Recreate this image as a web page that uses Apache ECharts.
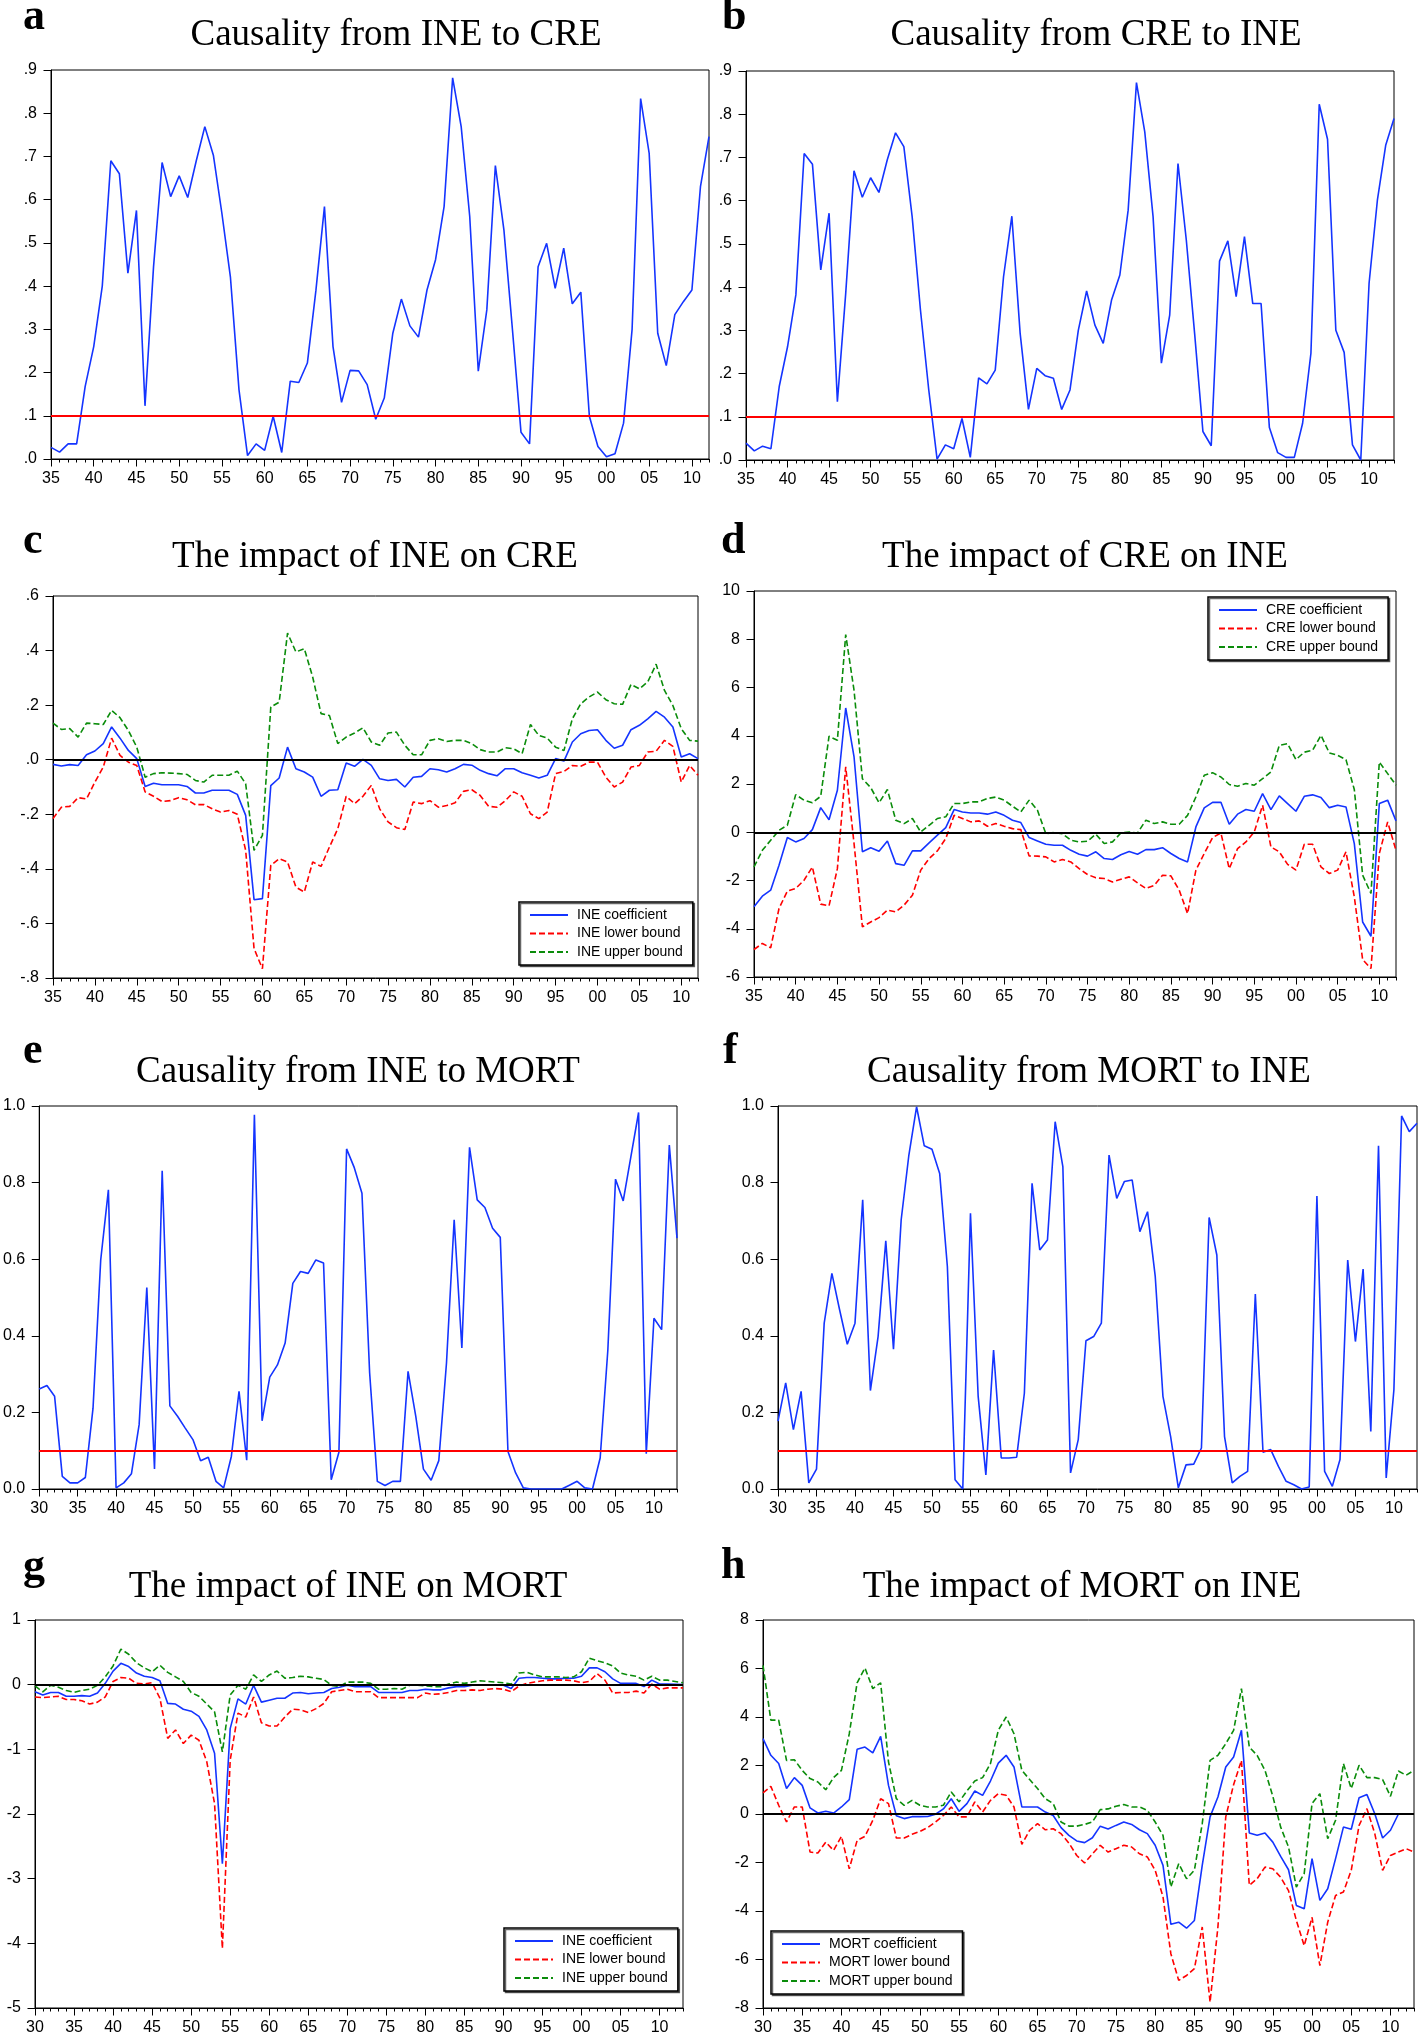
<!DOCTYPE html>
<html>
<head>
<meta charset="utf-8">
<title>Causality and impact of INE</title>
<script src="https://cdn.jsdelivr.net/npm/echarts@6/dist/echarts.min.js"></script>
<style>
  html, body { margin: 0; padding: 0; background: #fff; }
  #chart { width: 1418px; height: 2036px; }
</style>
</head>
<body>
<div id="chart"></div>
<script>
  const yearRange = (from, to) => {
    const out = [];
    for (let y = from; y <= to; y++) out.push(y);
    return out;
  };

  // x categories (years)
  const years35to12 = yearRange(1935, 2012);
  const years35to13 = yearRange(1935, 2013);
  const years30to13 = yearRange(1930, 2013);

  const THRESHOLD = 0.1;
  const ZERO = 0;

  // a: causality from INE to CRE (p-values)
  const ineToCre = [
    0.027, 0.016, 0.035, 0.035, 0.168, 0.26, 0.40, 0.69, 0.66, 0.43,
    0.575, 0.123, 0.445, 0.686, 0.607, 0.655, 0.605, 0.69, 0.769, 0.703,
    0.568, 0.42, 0.16, 0.008, 0.035, 0.02, 0.099, 0.015, 0.18, 0.177,
    0.222, 0.39, 0.584, 0.26, 0.131, 0.205, 0.204, 0.172, 0.092, 0.141,
    0.291, 0.37, 0.308, 0.282, 0.391, 0.461, 0.584, 0.882, 0.769, 0.561,
    0.203, 0.345, 0.679, 0.53, 0.299, 0.062, 0.035, 0.445, 0.499, 0.395,
    0.488, 0.359, 0.386, 0.099, 0.029, 0.005, 0.012, 0.083, 0.30, 0.834,
    0.707, 0.291, 0.216, 0.334, 0.364, 0.391, 0.63, 0.746
  ];

  // b: causality from CRE to INE
  const creToIne = [
    0.039, 0.021, 0.032, 0.026, 0.17, 0.262, 0.382, 0.709, 0.684, 0.44,
    0.571, 0.135, 0.385, 0.669, 0.608, 0.653, 0.619, 0.694, 0.757, 0.725,
    0.563, 0.347, 0.162, 0.002, 0.035, 0.026, 0.096, 0.006, 0.19, 0.176,
    0.208, 0.424, 0.564, 0.293, 0.117, 0.212, 0.195, 0.189, 0.117, 0.162,
    0.30, 0.391, 0.312, 0.27, 0.37, 0.428, 0.578, 0.873, 0.759, 0.563,
    0.224, 0.335, 0.686, 0.509, 0.293, 0.066, 0.033, 0.46, 0.507, 0.378,
    0.517, 0.362, 0.362, 0.075, 0.017, 0.006, 0.006, 0.085, 0.247, 0.823,
    0.742, 0.30, 0.249, 0.035, 0.0, 0.409, 0.601, 0.728, 0.79
  ];

  // c: impact of INE on CRE
  const ineOnCreCoef = [
    -0.017, -0.023, -0.018, -0.021, 0.018, 0.032, 0.059, 0.12, 0.079, 0.034,
    0.004, -0.098, -0.086, -0.092, -0.092, -0.092, -0.098, -0.122, -0.122, -0.112,
    -0.112, -0.112, -0.127, -0.204, -0.513, -0.509, -0.095, -0.067, 0.046, -0.033,
    -0.045, -0.064, -0.134, -0.112, -0.11, -0.012, -0.024, 0.001, -0.021, -0.07,
    -0.076, -0.072, -0.10, -0.064, -0.061, -0.033, -0.037, -0.045, -0.033, -0.017,
    -0.02, -0.039, -0.051, -0.059, -0.033, -0.033, -0.048, -0.057, -0.067, -0.057,
    0.004, -0.005, 0.065, 0.095, 0.107, 0.11, 0.071, 0.042, 0.053, 0.11,
    0.126, 0.15, 0.177, 0.156, 0.12, 0.01, 0.022, 0.004
  ];
  const ineOnCreLower = [
    -0.216, -0.174, -0.171, -0.139, -0.144, -0.082, -0.027, 0.079, 0.016, -0.009,
    -0.021, -0.118, -0.134, -0.153, -0.15, -0.139, -0.147, -0.165, -0.164, -0.18,
    -0.192, -0.186, -0.20, -0.332, -0.692, -0.766, -0.387, -0.363, -0.375, -0.467,
    -0.485, -0.375, -0.391, -0.32, -0.253, -0.134, -0.161, -0.134, -0.094, -0.18,
    -0.228, -0.249, -0.256, -0.155, -0.161, -0.15, -0.174, -0.168, -0.158, -0.116,
    -0.11, -0.131, -0.171, -0.174, -0.15, -0.118, -0.134, -0.198, -0.216, -0.192,
    -0.051, -0.043, -0.021, -0.024, -0.009, -0.009, -0.064, -0.10, -0.082, -0.027,
    -0.021, 0.028, 0.031, 0.071, 0.049, -0.082, -0.021, -0.057
  ];
  const ineOnCreUpper = [
    0.134, 0.111, 0.114, 0.083, 0.134, 0.132, 0.129, 0.181, 0.154, 0.107,
    0.046, -0.064, -0.051, -0.048, -0.049, -0.051, -0.054, -0.076, -0.082, -0.057,
    -0.057, -0.057, -0.042, -0.088, -0.332, -0.277, 0.193, 0.211, 0.464, 0.395,
    0.407, 0.303, 0.169, 0.162, 0.059, 0.083, 0.098, 0.117, 0.065, 0.053,
    0.098, 0.101, 0.053, 0.018, 0.018, 0.071, 0.077, 0.067, 0.071, 0.071,
    0.059, 0.037, 0.028, 0.028, 0.044, 0.04, 0.022, 0.129, 0.089, 0.079,
    0.046, 0.034, 0.15, 0.205, 0.23, 0.248, 0.22, 0.205, 0.203, 0.276,
    0.26, 0.285, 0.35, 0.254, 0.199, 0.114, 0.071, 0.068
  ];

  // d: impact of CRE on INE
  const creOnIneCoef = [
    -3.09, -2.65, -2.40, -1.37, -0.22, -0.40, -0.26, 0.11, 1.02, 0.52,
    1.74, 5.15, 3.12, -0.81, -0.64, -0.79, -0.36, -1.30, -1.37, -0.77,
    -0.77, -0.44, -0.12, 0.19, 0.94, 0.84, 0.80, 0.80, 0.75, 0.84,
    0.70, 0.50, 0.40, -0.22, -0.36, -0.50, -0.54, -0.54, -0.75, -0.91,
    -0.99, -0.81, -1.09, -1.13, -0.93, -0.80, -0.91, -0.72, -0.72, -0.64,
    -0.88, -1.09, -1.23, 0.22, 1.01, 1.24, 1.24, 0.33, 0.75, 0.94,
    0.87, 1.60, 0.94, 1.51, 1.19, 0.87, 1.49, 1.55, 1.44, 1.02,
    1.12, 1.05, -0.47, -3.72, -4.31, 1.19, 1.33, 0.47
  ];
  const creOnIneLower = [
    -4.86, -4.61, -4.79, -3.16, -2.44, -2.33, -1.99, -1.44, -2.98, -3.05,
    -1.51, 2.71, -0.47, -3.92, -3.72, -3.54, -3.23, -3.30, -3.02, -2.61,
    -1.57, -1.09, -0.77, -0.26, 0.70, 0.57, 0.43, 0.47, 0.25, 0.36,
    0.25, 0.15, 0.11, -0.98, -0.99, -1.02, -1.23, -1.13, -1.23, -1.51,
    -1.75, -1.89, -1.92, -2.06, -1.95, -1.85, -2.10, -2.33, -2.20, -1.78,
    -1.81, -2.40, -3.37, -1.57, -0.88, -0.22, -0.03, -1.51, -0.68, -0.40,
    0.01, 1.12, -0.61, -0.81, -1.33, -1.57, -0.50, -0.50, -1.44, -1.71,
    -1.57, -0.81, -2.68, -5.28, -5.65, -0.88, 0.43, -0.75
  ];
  const creOnIneUpper = [
    -1.44, -0.75, -0.33, 0.08, 0.29, 1.56, 1.33, 1.22, 1.49, 3.98,
    3.81, 8.19, 5.88, 2.22, 1.85, 1.22, 1.77, 0.50, 0.36, 0.57,
    0.01, 0.29, 0.57, 0.64, 1.19, 1.19, 1.26, 1.26, 1.40, 1.46,
    1.33, 1.08, 0.84, 1.33, 0.91, -0.06, -0.01, -0.06, -0.33, -0.40,
    -0.37, -0.08, -0.47, -0.40, -0.03, 0.01, -0.03, 0.50, 0.36, 0.43,
    0.33, 0.33, 0.70, 1.46, 2.36, 2.47, 2.29, 1.98, 1.91, 2.02,
    1.95, 2.22, 2.50, 3.60, 3.67, 3.01, 3.32, 3.40, 4.02, 3.29,
    3.19, 3.01, 1.77, -1.78, -2.54, 2.91, 2.43, 1.95
  ];

  // e: causality from INE to MORT
  const ineToMort = [
    0.261, 0.27, 0.242, 0.033, 0.016, 0.016, 0.03, 0.211, 0.598, 0.781,
    0.003, 0.016, 0.04, 0.168, 0.526, 0.052, 0.831, 0.217, 0.19, 0.159,
    0.129, 0.074, 0.083, 0.02, 0.003, 0.085, 0.255, 0.075, 0.977, 0.178,
    0.292, 0.324, 0.381, 0.537, 0.568, 0.563, 0.598, 0.59, 0.024, 0.096,
    0.888, 0.839, 0.772, 0.303, 0.02, 0.009, 0.02, 0.02, 0.307, 0.19,
    0.052, 0.023, 0.074, 0.329, 0.703, 0.368, 0.892, 0.755, 0.735, 0.681,
    0.657, 0.098, 0.042, 0.003, 0, 0, 0, 0, 0, 0.01,
    0.02, 0.003, 0, 0.081, 0.363, 0.809, 0.752, 0.868, 0.983, 0.092,
    0.446, 0.416, 0.898, 0.655
  ];

  // f: causality from MORT to INE
  const mortToIne = [
    0.177, 0.277, 0.155, 0.255, 0.016, 0.052, 0.433, 0.563, 0.468, 0.378,
    0.433, 0.755, 0.257, 0.398, 0.648, 0.365, 0.703, 0.872, 0.998, 0.896,
    0.887, 0.824, 0.581, 0.024, 0.0, 0.72, 0.242, 0.037, 0.363, 0.081,
    0.081, 0.083, 0.25, 0.798, 0.624, 0.65, 0.959, 0.842, 0.042, 0.129,
    0.387, 0.398, 0.433, 0.872, 0.759, 0.803, 0.807, 0.672, 0.724, 0.555,
    0.242, 0.137, 0.003, 0.063, 0.065, 0.107, 0.709, 0.611, 0.137, 0.016,
    0.033, 0.046, 0.509, 0.096, 0.103, 0.059, 0.02, 0.011, 0.0, 0.005,
    0.765, 0.046, 0.007, 0.077, 0.598, 0.385, 0.574, 0.15, 0.896, 0.029,
    0.259, 0.974, 0.933, 0.955
  ];

  // g: impact of INE on MORT
  const ineOnMortCoef = [
    -0.11, -0.16, -0.12, -0.12, -0.18, -0.18, -0.17, -0.18, -0.13, 0.02,
    0.21, 0.33, 0.28, 0.18, 0.13, 0.11, 0.06, -0.29, -0.30, -0.38,
    -0.41, -0.49, -0.70, -1.06, -2.77, -0.68, -0.22, -0.30, -0.01, -0.27,
    -0.24, -0.21, -0.21, -0.13, -0.12, -0.14, -0.13, -0.12, -0.06, -0.04,
    -0.01, -0.03, -0.03, -0.03, -0.12, -0.12, -0.12, -0.12, -0.09, -0.09,
    -0.07, -0.08, -0.08, -0.05, -0.03, -0.03, -0.01, -0.01, -0.01, -0.01,
    -0.01, -0.06, 0.10, 0.11, 0.11, 0.10, 0.09, 0.09, 0.10, 0.10,
    0.13, 0.26, 0.26, 0.20, 0.09, 0.02, 0.02, 0.02, -0.03, 0.07,
    0.01, 0.01, 0.005, 0.0
  ];
  const ineOnMortLower = [
    -0.19, -0.20, -0.19, -0.18, -0.23, -0.23, -0.25, -0.30, -0.27, -0.19,
    0.05, 0.11, 0.10, 0.02, 0.01, 0.03, -0.21, -0.83, -0.70, -0.91,
    -0.78, -0.86, -1.19, -1.84, -4.08, -1.17, -0.44, -0.50, -0.19, -0.59,
    -0.64, -0.64, -0.50, -0.38, -0.39, -0.43, -0.37, -0.29, -0.11, -0.09,
    -0.07, -0.11, -0.11, -0.11, -0.20, -0.20, -0.20, -0.20, -0.20, -0.20,
    -0.13, -0.15, -0.14, -0.12, -0.09, -0.09, -0.08, -0.09, -0.07, -0.06,
    -0.07, -0.11, -0.02, 0.02, 0.04, 0.06, 0.07, 0.07, 0.07, 0.06,
    0.03, 0.05, 0.17, 0.07, -0.13, -0.12, -0.12, -0.10, -0.13, 0.01,
    -0.07, -0.05, -0.05, -0.05
  ];
  const ineOnMortUpper = [
    -0.02, -0.11, -0.01, -0.04, -0.09, -0.12, -0.09, -0.07, -0.01, 0.12,
    0.29, 0.55, 0.47, 0.34, 0.26, 0.20, 0.30, 0.19, 0.12, 0.05,
    -0.12, -0.18, -0.30, -0.42, -1.04, -0.16, -0.01, -0.07, 0.15, 0.05,
    0.15, 0.21, 0.10, 0.11, 0.13, 0.12, 0.10, 0.08, -0.01, -0.03,
    0.04, 0.04, 0.04, 0.02, -0.07, -0.07, -0.06, -0.07, -0.01, -0.01,
    -0.02, -0.03, -0.03, 0.01, 0.04, 0.02, 0.04, 0.06, 0.05, 0.04,
    0.03, 0.01, 0.18, 0.19, 0.15, 0.12, 0.12, 0.12, 0.11, 0.12,
    0.20, 0.41, 0.37, 0.34, 0.29, 0.18, 0.15, 0.13, 0.07, 0.13,
    0.07, 0.07, 0.05, 0.03
  ];

  // h: impact of MORT on INE
  const mortOnIneCoef = [
    3.11, 2.42, 2.08, 1.05, 1.50, 1.18, 0.25, 0.04, 0.11, 0.04,
    0.29, 0.59, 2.67, 2.76, 2.52, 3.20, 1.18, -0.07, -0.19, -0.11,
    -0.11, -0.10, -0.01, 0.21, 0.63, 0.11, 0.43, 0.95, 0.77, 1.36,
    2.10, 2.42, 1.94, 0.29, 0.29, 0.29, 0.08, -0.06, -0.56, -0.88,
    -1.11, -1.18, -0.98, -0.50, -0.62, -0.47, -0.33, -0.43, -0.65, -0.81,
    -1.29, -2.12, -4.55, -4.46, -4.71, -4.39, -2.12, -0.12, 0.70, 1.94,
    2.35, 3.45, -0.78, -0.88, -0.78, -1.16, -1.75, -2.30, -3.77, -3.91,
    -1.84, -3.56, -3.08, -1.84, -0.54, -0.63, 0.67, 0.80, 0.01, -0.99,
    -0.67, -0.01, -0.01, -0.01
  ];
  const mortOnIneLower = [
    0.87, 1.14, 0.36, -0.33, 0.29, 0.29, -1.57, -1.61, -1.16, -1.50,
    -0.92, -2.26, -1.09, -0.92, -0.26, 0.63, 0.43, -0.99, -0.99, -0.84,
    -0.72, -0.56, -0.33, -0.06, 0.29, -0.12, -0.12, 0.50, 0.08, 0.56,
    0.84, 0.77, 0.29, -1.25, -0.67, -0.40, -0.65, -0.61, -0.81, -1.20,
    -1.71, -2.02, -1.64, -1.29, -1.57, -1.43, -1.29, -1.36, -1.64, -1.77,
    -2.32, -3.42, -5.76, -6.86, -6.66, -6.38, -4.66, -7.76, -4.66, -0.12,
    1.21, 2.21, -2.94, -2.67, -2.19, -2.26, -2.61, -3.16, -4.39, -5.43,
    -4.26, -6.25, -4.46, -3.36, -3.22, -2.32, -0.47, 0.22, -0.81, -2.32,
    -1.71, -1.57, -1.43, -1.57
  ];
  const mortOnIneUpper = [
    6.13, 3.87, 3.87, 2.21, 2.24, 1.80, 1.46, 1.32, 1.00, 1.50,
    1.80, 3.31, 5.41, 6.02, 5.17, 5.41, 2.15, 0.63, 0.36, 0.56,
    0.36, 0.29, 0.29, 0.36, 0.91, 0.50, 0.95, 1.36, 1.50, 2.08,
    3.45, 4.00, 3.31, 1.80, 1.42, 1.05, 0.63, 0.43, -0.33, -0.50,
    -0.50, -0.43, -0.33, 0.18, 0.21, 0.32, 0.39, 0.29, 0.29, 0.15,
    -0.33, -0.88, -3.01, -2.05, -2.67, -2.32, -0.40, 2.21, 2.42, 2.90,
    3.45, 5.17, 2.76, 2.42, 1.80, 0.73, -0.54, -1.36, -3.01, -2.46,
    0.43, 0.84, -1.02, -0.26, 2.08, 1.05, 2.01, 1.50, 1.50, 1.42,
    0.73, 1.77, 1.60, 1.80
  ];

  const BLUE = '#1434ff';
  const RED = '#ff0000';
  const GREEN = '#0a8c0a';
  const SANS = '"Liberation Sans", Arial, sans-serif';
  const SERIF = '"Liberation Serif", "Times New Roman", serif';

  const fmtDot = v => (v < 0 ? '-' : '') + Math.abs(v).toFixed(1).replace(/^0/, '');
  const fmtOne = v => v.toFixed(1);
  const fmtInt = v => String(Math.round(v));
  const fmtYear = v => String(v % 100).padStart(2, '0');

  const causality = (name, values) => [{ name, values, color: BLUE, dash: 'solid' }];
  const impact = (prefix, coef, lower, upper) => [
    { name: prefix + ' coefficient', values: coef, color: BLUE, dash: 'solid' },
    { name: prefix + ' lower bound', values: lower, color: RED, dash: [6, 3] },
    { name: prefix + ' upper bound', values: upper, color: GREEN, dash: [6, 3] }
  ];

  const panels = [
    {
      letter: 'a', title: 'Causality from INE to CRE', letterAt: [23, 18], titleAt: [396, 35.5],
      box: { left: 51, top: 70, width: 658, height: 389 },
      years: years35to12, y: { min: 0, max: 0.9, interval: 0.1, fmt: fmtDot },
      lines: causality('INE to CRE', ineToCre), ref: { value: THRESHOLD, color: RED }
    },
    {
      letter: 'b', title: 'Causality from CRE to INE', letterAt: [722, 18], titleAt: [1096, 35.5],
      box: { left: 746, top: 71, width: 648, height: 389 },
      years: years35to13, y: { min: 0, max: 0.9, interval: 0.1, fmt: fmtDot },
      lines: causality('CRE to INE', creToIne), ref: { value: THRESHOLD, color: RED }
    },
    {
      letter: 'c', title: 'The impact of INE on CRE', letterAt: [23, 542], titleAt: [375, 557.5],
      box: { left: 53, top: 596, width: 645, height: 382 },
      years: years35to12, y: { min: -0.8, max: 0.6, interval: 0.2, fmt: fmtDot },
      lines: impact('INE', ineOnCreCoef, ineOnCreLower, ineOnCreUpper),
      ref: { value: ZERO, color: '#000' }, legendAt: [519, 902]
    },
    {
      letter: 'd', title: 'The impact of CRE on INE', letterAt: [721, 542], titleAt: [1085, 557.5],
      box: { left: 754, top: 591, width: 642, height: 386 },
      years: years35to12, y: { min: -6, max: 10, interval: 2, fmt: fmtInt },
      lines: impact('CRE', creOnIneCoef, creOnIneLower, creOnIneUpper),
      ref: { value: ZERO, color: '#000' }, legendAt: [1208, 597]
    },
    {
      letter: 'e', title: 'Causality from INE to MORT', letterAt: [23, 1052], titleAt: [358, 1072.5],
      box: { left: 38, top: 1106, width: 639, height: 383 },
      years: years30to13, y: { min: 0, max: 1, interval: 0.2, fmt: fmtOne },
      lines: causality('INE to MORT', ineToMort), ref: { value: THRESHOLD, color: RED }
    },
    {
      letter: 'f', title: 'Causality from MORT to INE', letterAt: [723, 1052], titleAt: [1089, 1072.5],
      box: { left: 778, top: 1106, width: 639, height: 383 },
      years: years30to13, y: { min: 0, max: 1, interval: 0.2, fmt: fmtOne },
      lines: causality('MORT to INE', mortToIne), ref: { value: THRESHOLD, color: RED }
    },
    {
      letter: 'g', title: 'The impact of INE on MORT', letterAt: [23, 1568], titleAt: [348, 1587.5],
      box: { left: 35, top: 1620, width: 648, height: 388 },
      years: years30to13, y: { min: -5, max: 1, interval: 1, fmt: fmtInt },
      lines: impact('INE', ineOnMortCoef, ineOnMortLower, ineOnMortUpper),
      ref: { value: ZERO, color: '#000' }, legendAt: [504, 1928]
    },
    {
      letter: 'h', title: 'The impact of MORT on INE', letterAt: [721, 1567], titleAt: [1082, 1587.5],
      box: { left: 763, top: 1620, width: 651, height: 388 },
      years: years30to13, y: { min: -8, max: 8, interval: 2, fmt: fmtInt },
      lines: impact('MORT', mortOnIneCoef, mortOnIneLower, mortOnIneUpper),
      ref: { value: ZERO, color: '#000' }, legendAt: [771, 1931]
    }
  ];

  const black = { color: '#000', width: 1 };
  const option = {
    animation: false,
    backgroundColor: '#fff',
    grid: [],
    xAxis: [],
    yAxis: [],
    series: [],
    legend: [],
    graphic: []
  };

  panels.forEach((p, i) => {
    const first = p.years[0];
    const last = p.years[p.years.length - 1];
    const majors = p.years.filter(y => y % 5 === 0);

    option.grid.push({
      ...p.box,
      show: true,
      borderColor: '#000',
      borderWidth: 1,
      containLabel: false
    });

    // yearly minor ticks, carries the data
    option.xAxis.push({
      type: 'value',
      gridIndex: i,
      position: 'bottom',
      min: first,
      max: last,
      interval: 1,
      axisLine: { show: true, onZero: false, lineStyle: black },
      axisTick: { show: true, length: 3.5, lineStyle: black },
      axisLabel: { show: false },
      splitLine: { show: false }
    });
    // five-year major ticks and labels
    option.xAxis.push({
      type: 'value',
      gridIndex: i,
      position: 'bottom',
      min: first,
      max: last,
      interval: 5,
      axisLine: { show: false, onZero: false },
      axisTick: { show: true, length: 7.5, customValues: majors, lineStyle: black },
      axisLabel: {
        customValues: majors,
        formatter: fmtYear,
        margin: 12,
        fontSize: 16,
        fontFamily: SANS,
        color: '#000'
      },
      splitLine: { show: false }
    });

    option.yAxis.push({
      type: 'value',
      gridIndex: i,
      min: p.y.min,
      max: p.y.max,
      interval: p.y.interval,
      axisLine: { show: true, onZero: false, lineStyle: black },
      axisTick: { show: true, length: 7.5, lineStyle: black },
      axisLabel: {
        formatter: p.y.fmt,
        margin: 14,
        fontSize: 16,
        fontFamily: SANS,
        color: '#000'
      },
      splitLine: { show: false }
    });

    p.lines.forEach((line, k) => {
      const s = {
        name: line.name,
        type: 'line',
        xAxisIndex: 2 * i,
        yAxisIndex: i,
        data: p.years.map((yr, j) => [yr, line.values[j]]),
        symbol: 'none',
        itemStyle: { color: line.color },
        lineStyle: { color: line.color, width: 1.6, type: line.dash },
        z: 3
      };
      if (k === 0) {
        s.markLine = {
          silent: true,
          symbol: ['none', 'none'],
          label: { show: false },
          lineStyle: { color: p.ref.color, type: 'solid', width: 1.8 },
          data: [{ yAxis: p.ref.value }]
        };
      }
      option.series.push(s);
    });

    if (p.legendAt) {
      option.legend.push({
        left: p.legendAt[0],
        top: p.legendAt[1],
        orient: 'vertical',
        selectedMode: false,
        data: p.lines.map(l => l.name),
        itemWidth: 38,
        itemHeight: 14,
        itemGap: 4.5,
        padding: [6, 10, 6, 10],
        backgroundColor: '#fff',
        borderColor: '#000',
        borderWidth: 1.5,
        shadowColor: 'rgba(0,0,0,0.6)',
        shadowOffsetX: 1.5,
        shadowOffsetY: 1.5,
        // keep only the line sample, no symbol in the middle
        itemStyle: { opacity: 0 },
        textStyle: { fontFamily: SANS, fontSize: 14, color: '#000', padding: [0, 0, 0, 4] }
      });
    }

    option.graphic.push({
      type: 'text',
      x: p.letterAt[0],
      y: p.letterAt[1],
      style: {
        text: p.letter,
        fontFamily: SERIF,
        fontWeight: 'bold',
        fontSize: 44,
        fill: '#000',
        align: 'left',
        verticalAlign: 'middle'
      }
    });
    option.graphic.push({
      type: 'text',
      x: p.titleAt[0],
      y: p.titleAt[1],
      style: {
        text: p.title,
        fontFamily: SERIF,
        fontSize: 37,
        fill: '#000',
        align: 'center',
        verticalAlign: 'middle'
      }
    });
  });

  const chart = echarts.init(document.getElementById('chart'), null, { renderer: 'canvas' });
  chart.setOption(option);
  window.addEventListener('resize', () => chart.resize());
</script>
</body>
</html>
